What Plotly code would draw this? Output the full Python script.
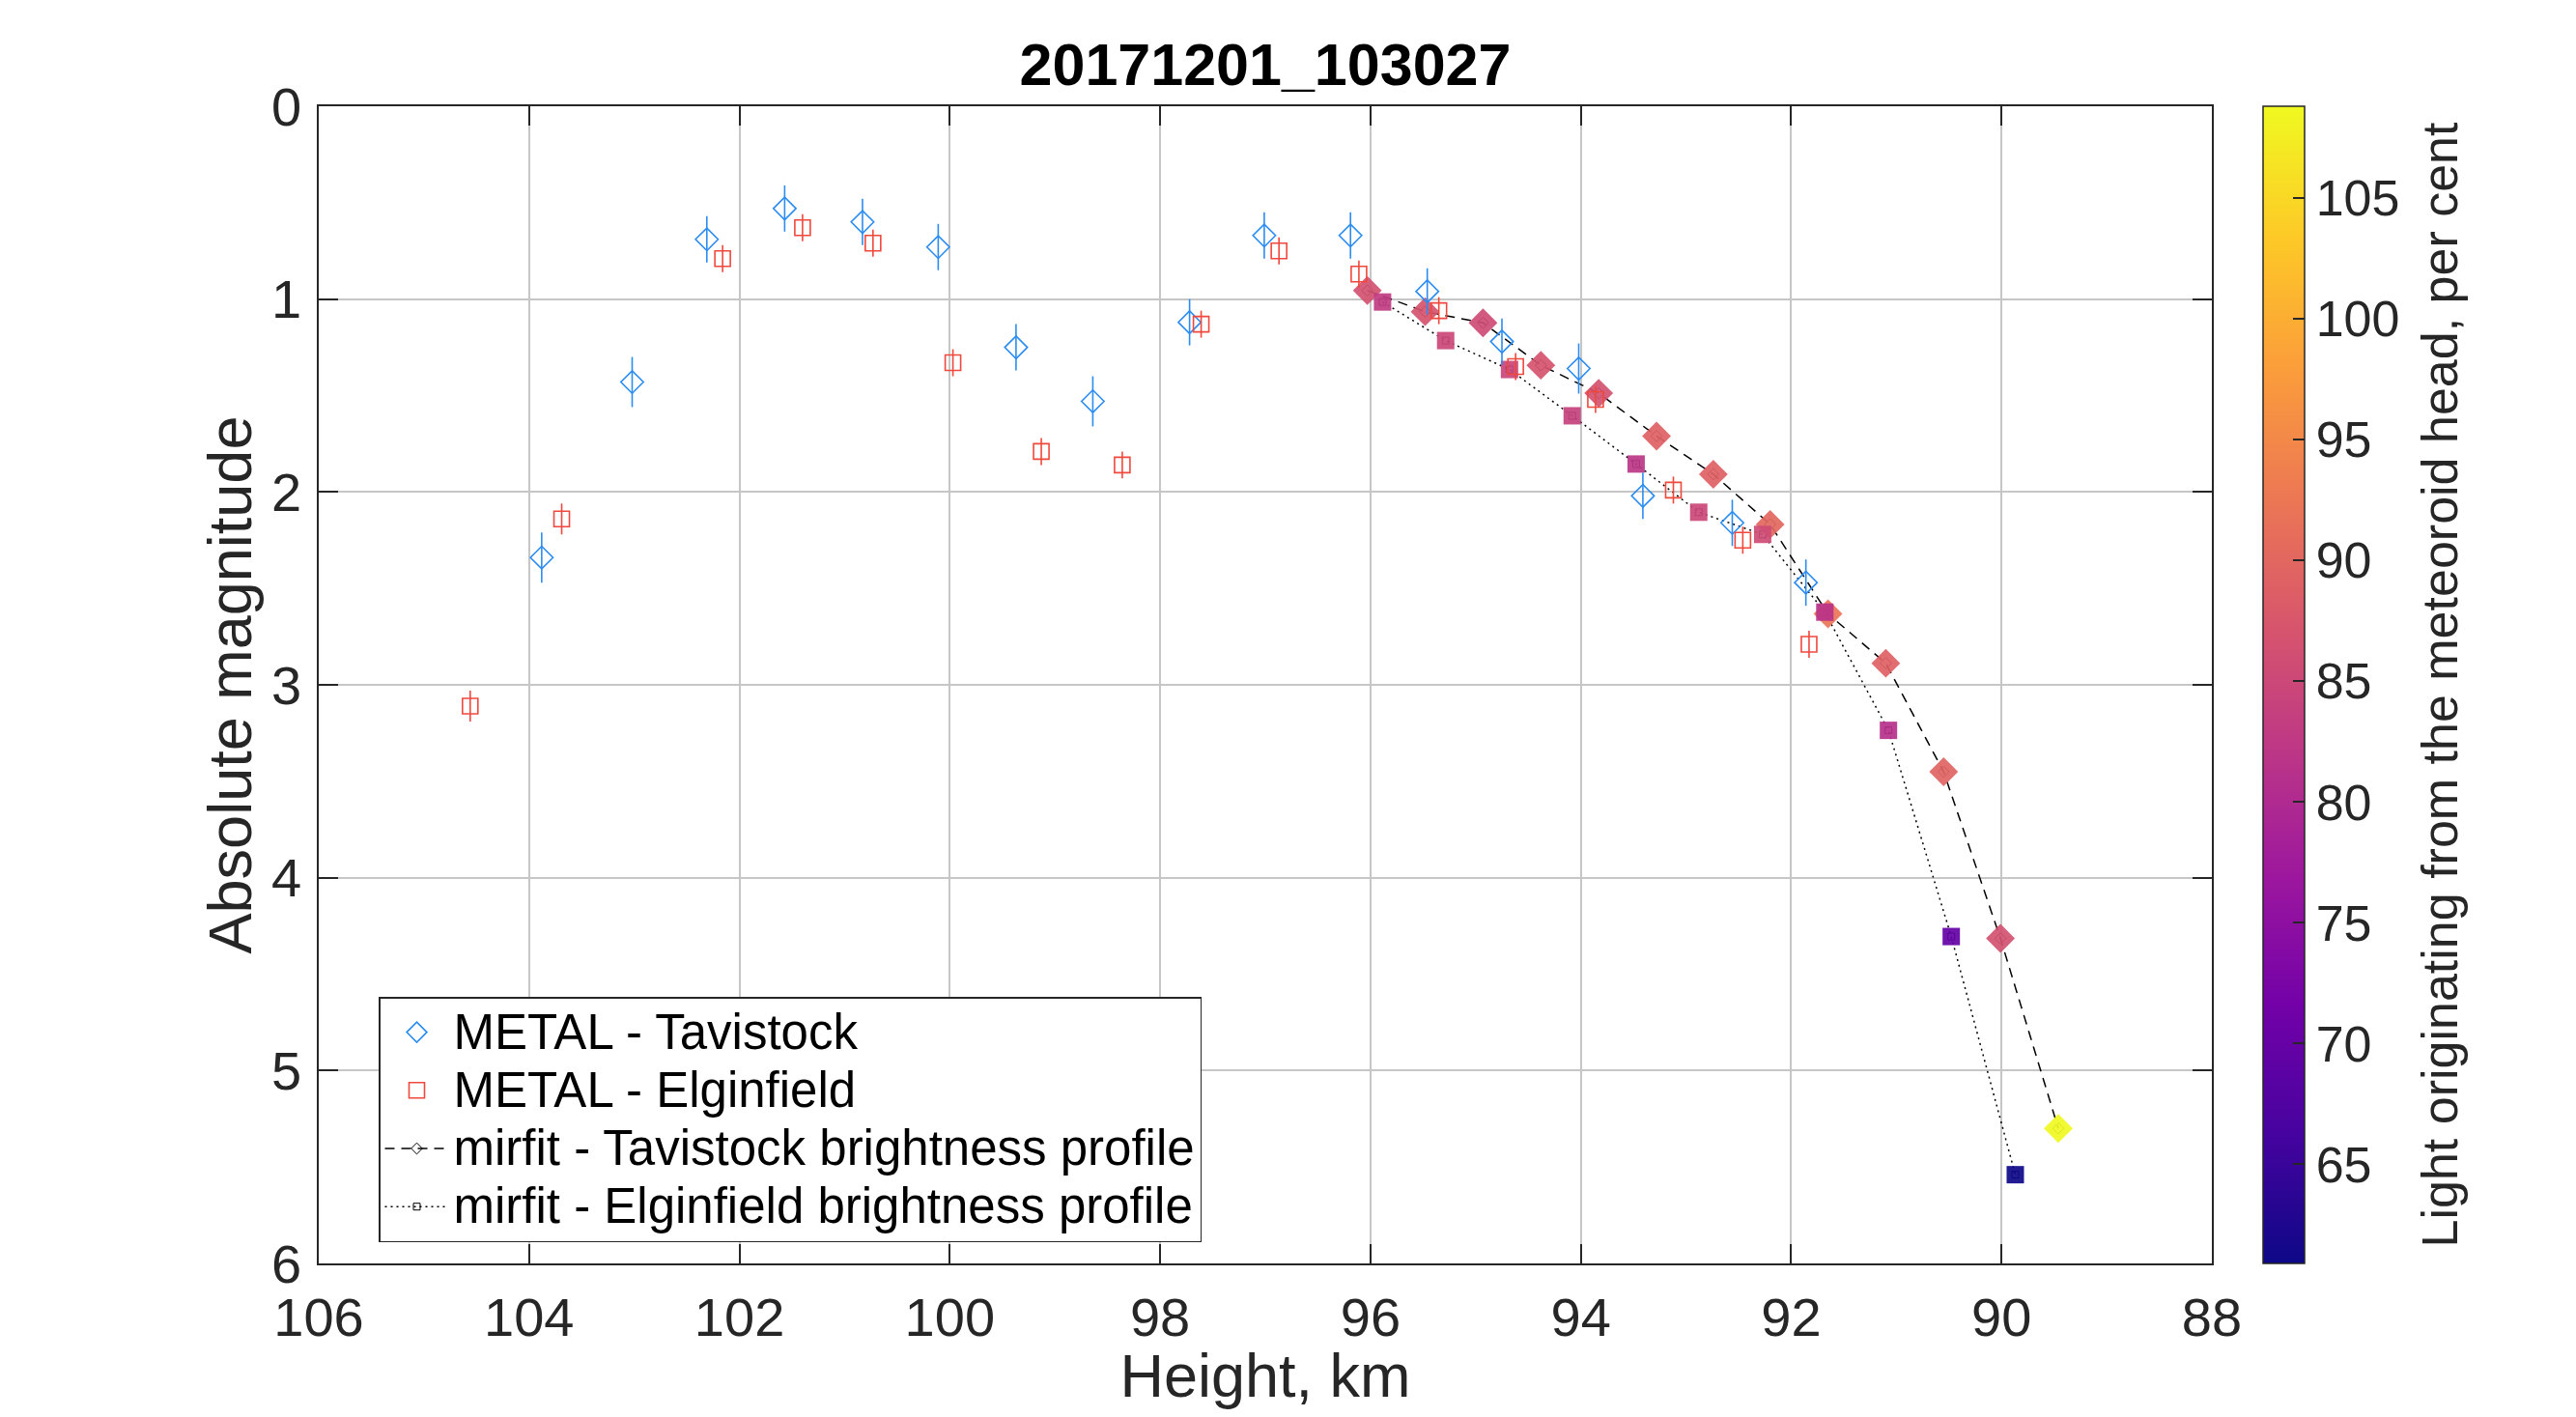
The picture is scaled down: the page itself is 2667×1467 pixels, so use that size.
import plotly.graph_objects as go

# ---------------- data ----------------
metal_tav_height = [103.88, 103.02, 102.31, 101.57, 100.83, 100.11, 99.37, 98.64,
                    97.72, 97.01, 96.19, 95.46, 94.75, 94.02, 93.41, 92.56, 91.86]
metal_tav_mag = [2.34, 1.43, 0.69, 0.53, 0.60, 0.73, 1.25, 1.53,
                 1.12, 0.67, 0.67, 0.96, 1.22, 1.36, 2.02, 2.16, 2.47]
metal_tav_err = [0.13, 0.13, 0.12, 0.12, 0.12, 0.12, 0.12, 0.13,
                 0.12, 0.12, 0.12, 0.12, 0.12, 0.13, 0.12, 0.12, 0.12]

metal_elg_height = [104.56, 103.69, 102.16, 101.40, 100.73, 99.97, 99.13, 98.36,
                    97.61, 96.87, 96.11, 95.35, 94.62, 93.86, 93.12, 92.46, 91.83]
metal_elg_mag = [3.11, 2.14, 0.79, 0.63, 0.71, 1.33, 1.79, 1.86,
                 1.13, 0.75, 0.87, 1.06, 1.35, 1.52, 1.99, 2.25, 2.79]
metal_elg_err = [0.08, 0.08, 0.07, 0.07, 0.07, 0.07, 0.07, 0.07,
                 0.07, 0.07, 0.07, 0.07, 0.07, 0.07, 0.07, 0.07, 0.07]

mirfit_tav_height = [96.03, 95.48, 94.93, 94.38, 93.83, 93.28, 92.74, 92.20,
                     91.65, 91.10, 90.55, 90.01, 89.46]
mirfit_tav_mag = [0.955, 1.065, 1.123, 1.343, 1.488, 1.71, 1.908, 2.168,
                  2.632, 2.888, 3.451, 4.315, 5.30]
mirfit_tav_pct = [86.5, 87.0, 85.5, 87.0, 86.5, 89.0, 89.0, 90.0,
                  92.0, 89.0, 89.5, 86.5, 108.8]

mirfit_elg_height = [95.885, 95.285, 94.678, 94.082, 93.474, 92.879, 92.271,
                     91.68, 91.075, 90.478, 89.869]
mirfit_elg_mag = [1.015, 1.215, 1.365, 1.605, 1.855, 2.105, 2.22,
                  2.623, 3.236, 4.305, 5.54]
mirfit_elg_pct = [83.0, 85.0, 84.5, 84.0, 82.0, 85.0, 85.5,
                  81.5, 81.0, 70.0, 60.9]

x_ticks = [106, 104, 102, 100, 98, 96, 94, 92, 90, 88]
y_ticks = [0, 1, 2, 3, 4, 5, 6]
cbar_ticks = [65, 70, 75, 80, 85, 90, 95, 100, 105]
pct_min, pct_max = 60.9, 108.8

title_text = "20171201_103027"
x_label = "Height, km"
y_label = "Absolute magnitude"
cbar_label = "Light originating from the meteoroid head, per cent"
legend_names = ["METAL - Tavistock", "METAL - Elginfield",
                "mirfit - Tavistock brightness profile",
                "mirfit - Elginfield brightness profile"]

# ---------------- styling ----------------
FONT = "Liberation Sans, Arial, Helvetica, sans-serif"
AX = "#262626"
GRID = "#c6c6c6"
BLUE = "#2b8cf2"
RED = "#f0483c"

PAGE_W, PAGE_H = 2667, 1467
OFF = 8                      # default body margin of the html page
W, H = PAGE_W - 2 * OFF, PAGE_H - 2 * OFF
# plot-area edges in page pixels
L, R, T, B = 330, 2290, 110, 1308


def leg(name):
    # legend text drawn larger than the row height font
    return '<span style="font-size:51px">' + name + '</span>'


fig = go.Figure()

# mirfit lines (legend entries 3 and 4)
fig.add_trace(go.Scatter(
    x=mirfit_tav_height, y=mirfit_tav_mag, mode="lines+markers",
    name=leg(legend_names[2]),
    line=dict(color="black", width=1.5, dash="10px,7px"),
    marker=dict(symbol="diamond-open", size=9, color="black", line=dict(width=1)),
    legendrank=3,
))
fig.add_trace(go.Scatter(
    x=mirfit_elg_height, y=mirfit_elg_mag, mode="lines+markers",
    name=leg(legend_names[3]),
    line=dict(color="black", width=1.5, dash="2px,4px"),
    marker=dict(symbol="square-open", size=7, color="black", line=dict(width=1)),
    legendrank=4,
))

# coloured mirfit markers
fig.add_trace(go.Scatter(
    x=mirfit_tav_height, y=mirfit_tav_mag, mode="markers", showlegend=False,
    marker=dict(symbol="diamond", size=23, color=mirfit_tav_pct, coloraxis="coloraxis",
                opacity=0.92, line=dict(width=0)),
))
fig.add_trace(go.Scatter(
    x=mirfit_elg_height, y=mirfit_elg_mag, mode="markers", showlegend=False,
    marker=dict(symbol="square", size=18, color=mirfit_elg_pct, coloraxis="coloraxis",
                opacity=0.92, line=dict(width=0)),
))

# METAL observations
fig.add_trace(go.Scatter(
    x=metal_tav_height, y=metal_tav_mag, mode="markers", name=leg(legend_names[0]),
    marker=dict(symbol="diamond-open", size=18, color=BLUE, line=dict(width=1.6, color=BLUE)),
    error_y=dict(type="data", array=metal_tav_err, visible=True, color=BLUE,
                 thickness=1.6, width=0),
    legendrank=1,
))
fig.add_trace(go.Scatter(
    x=metal_elg_height, y=metal_elg_mag, mode="markers", name=leg(legend_names[1]),
    marker=dict(symbol="square-open", size=16, color=RED, line=dict(width=1.6, color=RED)),
    error_y=dict(type="data", array=metal_elg_err, visible=True, color=RED,
                 thickness=1.6, width=0),
    legendrank=2,
))

axis_common = dict(
    showline=True, linecolor=AX, linewidth=1.5, mirror="ticks",
    ticks="inside", ticklen=20, tickwidth=1.5, tickcolor=AX,
    showgrid=True, gridcolor=GRID, gridwidth=1.5, zeroline=False,
    tickfont=dict(family=FONT, size=56, color=AX),
)

fig.update_layout(
    width=W, height=H,
    margin=dict(l=L - OFF, r=(OFF + W) - R, t=T - OFF, b=(OFF + H) - B, pad=0),
    paper_bgcolor="white", plot_bgcolor="white",
    font=dict(family=FONT, color=AX),
    title=dict(text=title_text, x=((L + R) / 2 - OFF) / W, xanchor="center",
               y=1 - (67 - OFF) / H, yanchor="middle", xref="container", yref="container",
               font=dict(family=FONT, size=61, color="black", weight="bold")),
    xaxis=dict(range=[106, 88], tickvals=x_ticks, ticktext=[str(v) for v in x_ticks],
               ticklabelstandoff=6,
               title=dict(text=x_label, font=dict(family=FONT, size=63, color=AX), standoff=4),
               **axis_common),
    yaxis=dict(range=[6, 0], tickvals=y_ticks, ticktext=[str(v) for v in y_ticks],
               ticklabelstandoff=5,
               title=dict(text=y_label, font=dict(family=FONT, size=63, color=AX), standoff=0),
               **axis_common),
    coloraxis=dict(
        colorscale="Plasma", cmin=pct_min, cmax=pct_max,
        colorbar=dict(
            x=(2343 - L) / (R - L), xanchor="left", xref="paper",
            y=0.5, yanchor="middle", yref="paper", len=1, lenmode="fraction",
            thickness=43, thicknessmode="pixels", xpad=0, ypad=0,
            outlinewidth=1.5, outlinecolor=AX,
            ticks="inside", ticklen=12, tickwidth=1.5, tickcolor=AX,
            tickvals=cbar_ticks,
            ticktext=[str(v) + "\u2009" for v in cbar_ticks],
            tickfont=dict(family=FONT, size=52, color=AX),
            title=dict(text=cbar_label, side="right",
                       font=dict(family=FONT, size=52, color=AX)),
        ),
    ),
    legend=dict(
        x=(392 - L) / (R - L), xanchor="left", y=(B - 1286) / (B - T), yanchor="bottom",
        bgcolor="white", bordercolor=AX, borderwidth=1.5,
        font=dict(family=FONT, size=44, color="black"),
        tracegroupgap=0, itemwidth=66,
    ),
)

fig.write_html("out.html")
